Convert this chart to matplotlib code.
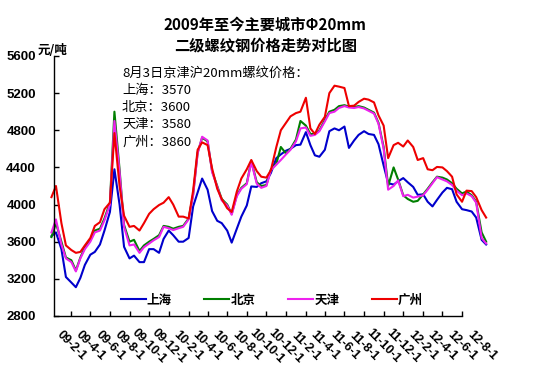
import pandas as pd
import matplotlib
matplotlib.use("Agg")
import matplotlib.pyplot as plt

plt.rcParams["font.family"] = ["Noto Sans CJK SC", "DejaVu Sans"]

# half-month sampling, Dec 2008 .. Aug 2012
dates = pd.date_range("2008-12-01", periods=90, freq="SMS")

shanghai = [3660, 3700, 3520, 3220, 3160, 3110, 3210, 3350, 3460, 3490,
            3570, 3720, 3920, 4380, 4000, 3545, 3420, 3450, 3380, 3380,
            3520, 3520, 3480, 3630, 3720, 3670, 3600, 3600, 3640, 3980,
            4130, 4280, 4160, 3930, 3825, 3800, 3720, 3590, 3740, 3870,
            3990, 4195, 4190, 4230, 4250, 4340, 4500, 4540, 4580, 4600,
            4640, 4645, 4780, 4640, 4530, 4515, 4590, 4790, 4820, 4800,
            4840, 4610, 4690, 4750, 4790, 4760, 4750, 4650, 4420, 4230,
            4215, 4250, 4285, 4240, 4190, 4105, 4110, 4030, 3980, 4050,
            4130, 4180, 4165, 4030, 3950, 3940, 3925, 3860, 3620, 3570]

beijing = [3650, 3800, 3600, 3430, 3400, 3290, 3430, 3540, 3620, 3720,
           3740, 3850, 4020, 5000, 4380, 3780, 3600, 3620, 3500, 3560,
           3600, 3630, 3670, 3770, 3760, 3740, 3760, 3770, 3850, 4110,
           4560, 4720, 4680, 4360, 4200, 4060, 4000, 3900, 4100, 4180,
           4230, 4470, 4240, 4200, 4210, 4380, 4440, 4620, 4550, 4600,
           4700, 4900, 4850, 4760, 4760, 4800, 4910, 5000, 5020, 5060,
           5070, 5055, 5050, 5060, 5045, 5020, 4990, 4880, 4620, 4200,
           4400, 4270, 4100, 4060, 4030, 4040, 4110, 4170, 4240, 4300,
           4290, 4270, 4230, 4170, 4120, 4140, 4100, 4030, 3700, 3600]

tianjin = [3700, 3840, 3570, 3420, 3380, 3280, 3420, 3520, 3600, 3700,
           3720, 3830, 4000, 4900, 4350, 3760, 3560, 3570, 3480, 3540,
           3580, 3615, 3650, 3760, 3745, 3725, 3745, 3760, 3840, 4100,
           4550, 4730, 4690, 4350, 4190, 4045, 3990, 3890, 4090, 4170,
           4220, 4460, 4225, 4180, 4200, 4370, 4430, 4480, 4540, 4590,
           4680, 4820, 4830, 4740, 4750, 4790, 4895, 4985, 5000, 5040,
           5060, 5045, 5040, 5050, 5035, 5010, 4980, 4870, 4600, 4160,
           4200, 4260, 4090, 4105, 4075, 4085, 4100, 4160, 4230, 4295,
           4270, 4250, 4210, 4150, 4100, 4120, 4090, 4020, 3640, 3580]

guangzhou = [4080, 4200, 3800, 3560, 3510, 3480, 3490, 3560, 3640, 3770,
             3810, 3950, 4020, 4770, 4200, 3880, 3760, 3770, 3720, 3800,
             3900, 3950, 3995, 4020, 4080, 4000, 3870, 3870, 3850, 4150,
             4590, 4670, 4640, 4390, 4170, 4060, 3960, 3920, 4140, 4280,
             4380, 4480, 4360, 4300, 4290, 4370, 4620, 4800, 4880, 4950,
             4985, 5000, 5150, 4820, 4760, 4860, 4945, 5200, 5280, 5270,
             5255, 5060, 5065, 5105, 5140, 5130, 5100, 4960, 4850, 4500,
             4640, 4665, 4625, 4690, 4620, 4480, 4500, 4380, 4370, 4405,
             4400, 4360, 4300, 4110, 4030, 4150, 4145, 4080, 3940, 3860]

names = ["上海", "北京", "天津", "广州"]
colors = ["#0000CC", "#007F00", "#EE22EE", "#EE0000"]
series = [shanghai, beijing, tianjin, guangzhou]

tick_labels = ["09-2-1", "09-4-1", "09-6-1", "09-8-1", "09-10-1", "09-12-1",
               "10-2-1", "10-4-1", "10-6-1", "10-8-1", "10-10-1", "10-12-1",
               "11-2-1", "11-4-1", "11-6-1", "11-8-1", "11-10-1", "11-12-1",
               "12-2-1", "12-4-1", "12-6-1", "12-8-1"]
tick_dates = pd.to_datetime(["20" + t for t in tick_labels])

note_title = "8月3日京津沪20mm螺纹价格："
note_prices = [3570, 3600, 3580, 3860]

fig = plt.figure(figsize=(5.49, 3.92), dpi=100)
ax = fig.add_axes([0.0984, 0.1939, 0.7432, 0.6633])

for name, vals, c in zip(names, series, colors):
    ax.plot(dates, vals, color=c, lw=1.5, label=name, clip_on=False)

ax.set_ylim(2800, 5600)
ax.set_yticks(range(2800, 5601, 400))
ax.set_xlim(pd.Timestamp("2008-12-09"), pd.Timestamp("2012-06-01"))
ax.set_xticks(tick_dates[:-1])
ax.set_xticklabels([])
for s in ["top", "right"]:
    ax.spines[s].set_visible(False)
for s in ["left", "bottom"]:
    ax.spines[s].set_linewidth(1.0)
ax.tick_params(axis="both", direction="in", length=3.5, width=1.0)
ax.tick_params(axis="y", pad=13)
for lab in ax.get_yticklabels():
    lab.set_fontweight("bold")
    lab.set_fontfamily(["Liberation Sans", "DejaVu Sans"])
    lab.set_fontsize(9.5)

# rotated date labels (last one sits past the axis end, so drawn as text)
for d, t in zip(tick_dates, tick_labels):
    ax.text(d, -0.115, t, transform=ax.get_xaxis_transform(), rotation=-45,
            ha="center", va="center", rotation_mode="anchor", fontsize=9,
            fontweight="bold", family=["Liberation Sans", "DejaVu Sans"],
            clip_on=False)

ax.legend(ncol=4, loc="center", bbox_to_anchor=(0.534, 0.0615),
          frameon=False, handlelength=2.0, handletextpad=0.1,
          columnspacing=2.6, prop={"weight": "bold", "size": 9})

fig.text(0.483, 1 - 25 / 392, "2009年至今主要城市Φ20mm", ha="center", va="center",
         fontsize=11, fontweight="bold")
fig.text(0.483, 1 - 45 / 392, "二级螺纹钢价格走势对比图", ha="center", va="center",
         fontsize=11, fontweight="bold")
fig.text(53 / 549, 1 - 50 / 392, "元/吨", ha="center", va="center",
         fontsize=9, fontweight="bold")

lines = [note_title] + ["%s：%d" % (n, p) for n, p in zip(names, note_prices)]
for i, ln in enumerate(lines):
    fig.text(122 / 549, 1 - (73 + 17.3 * i) / 392, ln, ha="left", va="center",
             fontsize=9.5)

fig.savefig("out.png", dpi=100)
